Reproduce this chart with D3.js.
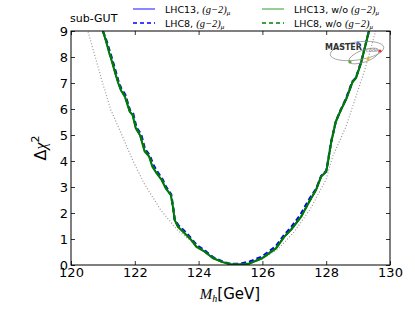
<!DOCTYPE html>
<html>
<head>
<meta charset="utf-8">
<script src="https://cdn.jsdelivr.net/npm/d3@7"></script>
<style>
  body { margin: 0; background: #fff; }
  text { font-family: "DejaVu Sans", sans-serif; }
  .math { font-family: "Liberation Serif", "DejaVu Serif", serif; font-style: italic; }
</style>
</head>
<body>
<div class="chart"></div>
<script>
var svgWidth = 415;
var svgHeight = 312;

var margin = { top: 31, right: 25, bottom: 47, left: 71 };
var width = svgWidth - margin.left - margin.right;
var height = svgHeight - margin.top - margin.bottom;

// data: [Mh, delta chi^2]
var lhc13Gm2 = [[120.98,9.3],[121.0,9.0],[121.1,8.6],[121.2,8.15],[121.27,7.88],[121.38,7.4],[121.48,7.0],[121.56,6.73],[121.69,6.47],[121.84,5.9],[121.93,5.77],[122.03,5.26],[122.16,5.0],[122.31,4.38],[122.45,4.18],[122.55,3.8],[122.68,3.55],[122.84,3.28],[122.97,2.96],[123.13,2.7],[123.2,2.2],[123.25,1.74],[123.35,1.48],[123.56,1.23],[123.77,0.97],[123.93,0.72],[124.19,0.52],[124.45,0.27],[124.77,0.11],[125.0,0.03],[125.3,0.03],[125.59,0.07],[126.0,0.28],[126.43,0.66],[126.69,1.1],[126.9,1.37],[127.22,1.88],[127.47,2.45],[127.68,2.88],[127.84,3.4],[128.0,3.6],[128.05,3.92],[128.15,4.68],[128.3,5.51],[128.46,5.96],[128.62,6.36],[128.83,7.05],[128.93,7.18],[129.09,7.76],[129.2,8.3],[129.34,9.0],[129.4,9.3]];
var lhc8Gm2 = [[120.98,9.3],[121.0,9.0],[121.12,8.6],[121.22,8.2],[121.29,7.92],[121.4,7.45],[121.5,7.02],[121.58,6.78],[121.7,6.55],[121.85,5.95],[121.95,5.82],[122.05,5.3],[122.2,5.02],[122.32,4.45],[122.47,4.22],[122.58,3.85],[122.7,3.6],[122.86,3.32],[122.98,3.0],[123.14,2.72],[123.2,2.25],[123.25,1.76],[123.37,1.52],[123.58,1.28],[123.78,1.0],[123.95,0.76],[124.2,0.55],[124.45,0.3],[124.75,0.13],[125.0,0.04],[125.3,0.05],[125.6,0.13],[126.0,0.33],[126.42,0.72],[126.68,1.15],[126.9,1.45],[127.2,1.95],[127.45,2.5],[127.68,2.92],[127.84,3.42],[128.0,3.62],[128.05,3.96],[128.15,4.72],[128.3,5.52],[128.46,5.98],[128.62,6.4],[128.82,7.06],[128.93,7.2],[129.09,7.8],[129.2,8.32],[129.34,9.0],[129.4,9.3]];
var lhc13NoGm2 = [[120.98,9.3],[121.0,9.0],[121.1,8.6],[121.2,8.15],[121.27,7.88],[121.38,7.4],[121.48,7.0],[121.56,6.73],[121.69,6.47],[121.84,5.9],[121.93,5.77],[122.03,5.26],[122.16,5.0],[122.31,4.36],[122.45,4.17],[122.55,3.78],[122.68,3.53],[122.84,3.27],[122.97,2.95],[123.13,2.69],[123.2,2.2],[123.25,1.73],[123.35,1.47],[123.56,1.22],[123.77,0.96],[123.93,0.70],[124.19,0.51],[124.45,0.26],[124.77,0.10],[125.0,0.03],[125.3,0.02],[125.59,0.05],[126.0,0.26],[126.43,0.64],[126.69,1.09],[126.9,1.35],[127.22,1.86],[127.47,2.43],[127.68,2.88],[127.84,3.4],[128.0,3.59],[128.05,3.91],[128.15,4.68],[128.3,5.51],[128.46,5.96],[128.62,6.35],[128.83,7.05],[128.93,7.18],[129.09,7.76],[129.2,8.3],[129.34,9.0],[129.4,9.3]];
var lhc8NoGm2 = [[120.98,9.3],[121.0,9.0],[121.11,8.6],[121.21,8.17],[121.28,7.9],[121.39,7.42],[121.49,7.01],[121.57,6.75],[121.7,6.5],[121.85,5.92],[121.94,5.79],[122.04,5.28],[122.18,5.01],[122.32,4.4],[122.46,4.19],[122.56,3.81],[122.69,3.56],[122.85,3.29],[122.97,2.97],[123.13,2.7],[123.2,2.22],[123.25,1.74],[123.36,1.49],[123.57,1.24],[123.77,0.98],[123.94,0.72],[124.19,0.52],[124.45,0.27],[124.76,0.11],[125.0,0.03],[125.3,0.03],[125.59,0.06],[126.0,0.27],[126.43,0.66],[126.69,1.1],[126.9,1.37],[127.22,1.88],[127.47,2.45],[127.68,2.89],[127.84,3.4],[128.0,3.6],[128.05,3.92],[128.15,4.69],[128.3,5.51],[128.46,5.97],[128.62,6.37],[128.83,7.05],[128.93,7.19],[129.09,7.77],[129.2,8.31],[129.34,9.0],[129.4,9.3]];
// grey dotted reference curve
var refCurve = [[120.45,9.3],[120.53,9.0],[120.99,7.0],[121.25,5.96],[121.62,4.93],[121.93,4.04],[122.29,3.14],[122.81,2.12],[123.33,1.35],[123.85,0.83],[124.37,0.32],[124.9,0.06],[125.2,0.0],[125.5,0.04],[126.0,0.24],[126.5,0.62],[127.0,1.28],[127.5,2.15],[128.0,3.3],[128.2,4.17],[128.62,5.32],[128.93,6.47],[129.24,7.63],[129.55,9.0],[129.62,9.3]];

var xTicks = [120, 122, 124, 126, 128, 130];
var yTicks = [0, 1, 2, 3, 4, 5, 6, 7, 8, 9];

var svg = d3.select(".chart").append("svg")
  .attr("width", svgWidth)
  .attr("height", svgHeight);

var chartGroup = svg.append("g")
  .attr("transform", `translate(${margin.left}, ${margin.top})`);

var x = d3.scaleLinear().domain([120, 130]).range([0, width]);
var y = d3.scaleLinear().domain([0, 9]).range([height, 0]);

chartGroup.append("clipPath").attr("id", "clip")
  .append("rect").attr("width", width).attr("height", height);

var line = d3.line().x(d => x(d[0])).y(d => y(d[1]));

var plot = chartGroup.append("g").attr("clip-path", "url(#clip)");

plot.append("path").datum(refCurve)
  .attr("d", line).attr("fill", "none")
  .attr("stroke", "#999").attr("stroke-width", 1.2)
  .attr("stroke-dasharray", "1,2");

var series = [
  { data: lhc8Gm2, color: "#0000ff", dash: "5,3", w: 2.2 },
  { data: lhc13Gm2, color: "#4040ff", dash: null, w: 1.5 },
  { data: lhc8NoGm2, color: "#008000", dash: "5,3", w: 2 },
  { data: lhc13NoGm2, color: "#007a00", dash: null, w: 2 }
];
series.forEach(function(s) {
  plot.append("path").datum(s.data)
    .attr("d", line).attr("fill", "none")
    .attr("stroke", s.color).attr("stroke-width", s.w)
    .attr("stroke-dasharray", s.dash)
    .attr("stroke-linejoin", "round");
});

// axes with inward ticks on all four sides
var bottomAxis = d3.axisBottom(x).tickValues(xTicks).tickSize(-4).tickPadding(3).tickFormat(d3.format("d"));
var topAxis = d3.axisTop(x).tickValues(xTicks).tickSize(-4).tickFormat("");
var leftAxis = d3.axisLeft(y).tickValues(yTicks).tickSize(-4).tickPadding(3);
var rightAxis = d3.axisRight(y).tickValues(yTicks).tickSize(-4).tickFormat("");

function styleAxis(g) {
  g.select(".domain").remove();
  g.selectAll("line").attr("stroke", "#000").attr("stroke-width", 0.8);
  g.selectAll("text").attr("font-size", 13).attr("fill", "#000")
    .style("font-family", "'DejaVu Sans', sans-serif");
}

chartGroup.append("g").attr("transform", `translate(0, ${height})`).call(bottomAxis).call(styleAxis);
chartGroup.append("g").call(topAxis).call(styleAxis);
chartGroup.append("g").call(leftAxis).call(styleAxis);
chartGroup.append("g").attr("transform", `translate(${width}, 0)`).call(rightAxis).call(styleAxis);

chartGroup.append("rect")
  .attr("width", width).attr("height", height)
  .attr("fill", "none").attr("stroke", "#000").attr("stroke-width", 1);

// axis labels
var xLabel = svg.append("text")
  .attr("x", 230).attr("y", 299)
  .attr("text-anchor", "middle").attr("font-size", 15);
xLabel.append("tspan").attr("class", "math").text("M");
xLabel.append("tspan").attr("class", "math").attr("font-size", 10).attr("dy", 3).text("h");
xLabel.append("tspan").attr("dy", -3).text("[GeV]");

var yLabel = svg.append("text")
  .attr("transform", "translate(46, 148) rotate(-90)")
  .attr("text-anchor", "middle").attr("font-size", 16);
yLabel.append("tspan").text("Δ");
yLabel.append("tspan").attr("class", "math").text("χ");
yLabel.append("tspan").attr("font-size", 11).attr("dy", -7).text("2");

svg.append("text").attr("x", 70).attr("y", 22)
  .attr("font-size", 11).text("sub-GUT");

// legend
var legendItems = [
  { label: "LHC13, ", math: "(g\u22122)", sub: "\u03bc", color: "#6b6bff", dash: null, col: 0, row: 0 },
  { label: "LHC8, ", math: "(g\u22122)", sub: "\u03bc", color: "#0000ff", dash: "4,3", col: 0, row: 1 },
  { label: "LHC13, w/o ", math: "(g\u22122)", sub: "\u03bc", color: "#7cc47c", dash: null, col: 1, row: 0 },
  { label: "LHC8, w/o ", math: "(g\u22122)", sub: "\u03bc", color: "#008000", dash: "4,3", col: 1, row: 1 }
];
var colX = [133, 262];
legendItems.forEach(function(d) {
  var lx = colX[d.col], ly = 9 + d.row * 14;
  svg.append("line")
    .attr("x1", lx).attr("x2", lx + 22).attr("y1", ly).attr("y2", ly)
    .attr("stroke", d.color).attr("stroke-width", 1.6)
    .attr("stroke-dasharray", d.dash);
  var t = svg.append("text").attr("x", lx + 32).attr("y", ly + 3.5).attr("font-size", 9.5);
  t.append("tspan").text(d.label);
  t.append("tspan").attr("class", "math").attr("font-size", 10.5).text(d.math);
  t.append("tspan").attr("class", "math").attr("font-size", 7).attr("dy", 2).text(d.sub);
});

// MasterCode logo
var logo = svg.append("g");
logo.append("ellipse").attr("cx", 357).attr("cy", 51).attr("rx", 27).attr("ry", 9)
  .attr("fill", "none").attr("stroke", "#888").attr("stroke-width", 0.7)
  .attr("transform", "rotate(-8, 357, 51)");
logo.append("ellipse").attr("cx", 364).attr("cy", 56).attr("rx", 16).attr("ry", 6)
  .attr("fill", "none").attr("stroke", "#888").attr("stroke-width", 0.7)
  .attr("transform", "rotate(-20, 364, 56)");
logo.append("text").attr("x", 325).attr("y", 50).attr("font-size", 8)
  .attr("font-weight", "bold").attr("fill", "#333").text("MASTER");
logo.append("text").attr("x", 366).attr("y", 52).attr("font-size", 5)
  .attr("fill", "#555").text("code");
[[358, 43, "#3a6fd8"], [380, 51, "#e03030"], [368, 59, "#e8c020"], [350, 62, "#60a040"]].forEach(function(p) {
  logo.append("circle").attr("cx", p[0]).attr("cy", p[1]).attr("r", 1.6).attr("fill", p[2]);
});
</script>
</body>
</html>
